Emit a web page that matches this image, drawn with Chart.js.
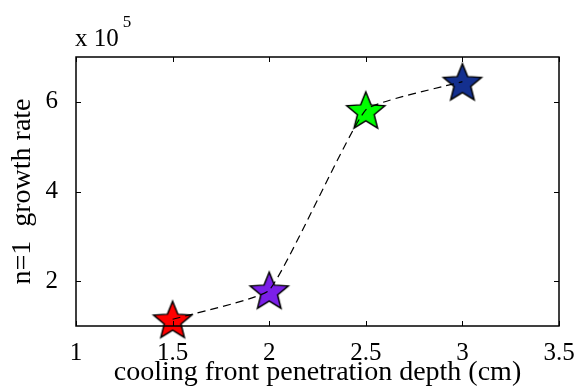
<!DOCTYPE html>
<html>
<head>
<meta charset="utf-8">
<script src="https://cdn.jsdelivr.net/npm/chart.js@4.4.1/dist/chart.umd.min.js"></script>
<style>
  html, body { margin: 0; padding: 0; background: #fff; }
  #wrap { width: 580px; height: 391px; }
</style>
</head>
<body>
<div id="wrap"><canvas id="growthChart" width="580" height="391"></canvas></div>
<script>
'use strict';

// ********************* DATA *********************

let depthValues = [1.5, 2, 2.5, 3];
let growthValues = [1.15, 1.8, 5.82, 6.45]; // in units of 10^5
let starColors = ['#ff0000', '#7b1fe8', '#00ff00', '#14308f'];
let xTickValues = [1, 1.5, 2, 2.5, 3, 3.5];
let yTickValues = [2, 4, 6];

let serif = '"Liberation Serif", "Times New Roman", serif';

// ********************* STAR MARKERS *********************

function makeStar(color) {
  let outer = 20;
  let inner = 8.8;
  let size = outer * 2 + 4;
  let c = document.createElement('canvas');
  c.width = size;
  c.height = size;
  let g = c.getContext('2d');
  g.beginPath();
  for (let i = 0; i < 10; i++) {
    let r = i % 2 === 0 ? outer : inner;
    let a = -Math.PI / 2 + i * Math.PI / 5;
    let px = size / 2 + r * Math.cos(a);
    let py = size / 2 + r * Math.sin(a) + 2;
    if (i === 0) g.moveTo(px, py); else g.lineTo(px, py);
  }
  g.closePath();
  g.fillStyle = color;
  g.fill();
  g.lineWidth = 1.5;
  g.strokeStyle = '#000';
  g.stroke();
  return c;
}

let starImages = starColors.map(makeStar);

let points = [];
for (let i = 0; i < depthValues.length; i++) {
  points.push({ x: depthValues[i], y: growthValues[i] });
}

// ********************* PLUGIN: box, inner ticks, exponent *********************

let matlabBox = {
  id: 'matlabBox',
  afterDraw(chart) {
    let ctx = chart.ctx;
    let area = chart.chartArea;
    let xs = chart.scales.x;
    let ys = chart.scales.y;
    ctx.save();
    ctx.strokeStyle = '#000';
    ctx.lineWidth = 1.5;
    ctx.strokeRect(area.left, area.top, area.right - area.left, area.bottom - area.top);
    ctx.lineWidth = 1;
    let len = 5;
    ctx.beginPath();
    xTickValues.forEach(v => {
      let px = Math.round(xs.getPixelForValue(v)) + 0.5;
      ctx.moveTo(px, area.bottom);
      ctx.lineTo(px, area.bottom - len);
      ctx.moveTo(px, area.top);
      ctx.lineTo(px, area.top + len);
    });
    yTickValues.forEach(v => {
      let py = Math.round(ys.getPixelForValue(v)) + 0.5;
      ctx.moveTo(area.left, py);
      ctx.lineTo(area.left + len, py);
      ctx.moveTo(area.right, py);
      ctx.lineTo(area.right - len, py);
    });
    ctx.stroke();

    // exponent label
    ctx.fillStyle = '#000';
    ctx.textBaseline = 'alphabetic';
    ctx.textAlign = 'left';
    ctx.font = '25px ' + serif;
    ctx.fillText('x 10', area.left - 1, 46);
    let w = ctx.measureText('x 10').width;
    ctx.font = '17px ' + serif;
    ctx.fillText('5', area.left + w + 3, 27);
    ctx.restore();
  }
};

// ********************* CHART *********************

let ctx = document.getElementById('growthChart');

new Chart(ctx, {
  type: 'scatter',
  data: {
    datasets: [
      {
        label: 'trend',
        data: points,
        showLine: true,
        borderColor: '#000',
        borderWidth: 1.2,
        borderDash: [8, 5],
        tension: 0.12,
        pointRadius: 0,
        order: 0
      },
      {
        label: 'stars',
        data: points,
        pointStyle: starImages,
        pointRadius: 20,
        clip: false,
        order: 1
      }
    ]
  },
  plugins: [matlabBox],
  options: {
    responsive: false,
    animation: false,
    events: [],
    layout: { padding: { top: 57, right: 21, left: 0, bottom: 0 } },
    plugins: {
      legend: { display: false },
      tooltip: { enabled: false }
    },
    scales: {
      x: {
        type: 'linear',
        min: 1,
        max: 3.5,
        afterBuildTicks(scale) { scale.ticks = xTickValues.map(v => ({ value: v })); },
        afterFit(scale) { scale.height = 65; },
        grid: { display: false },
        border: { display: false },
        ticks: {
          color: '#000',
          padding: 4,
          maxRotation: 0,
          font: { family: serif, size: 25 },
          callback: v => String(v)
        },
        title: {
          display: true,
          text: 'cooling front penetration depth (cm)',
          color: '#000',
          font: { family: serif, size: 28, lineHeight: 1 },
          padding: { top: 4, bottom: 4 }
        }
      },
      y: {
        type: 'linear',
        min: 1,
        max: 7,
        afterBuildTicks(scale) { scale.ticks = yTickValues.map(v => ({ value: v })); },
        afterFit(scale) { scale.width = 76; },
        grid: { display: false },
        border: { display: false },
        ticks: {
          color: '#000',
          padding: 10,
          font: { family: serif, size: 25 },
          callback: v => String(v)
        },
        title: {
          display: true,
          text: 'n=1  growth rate',
          color: '#000',
          font: { family: serif, size: 28, lineHeight: 1 },
          padding: { top: 9, bottom: 0 }
        }
      }
    }
  }
});
</script>
</body>
</html>
